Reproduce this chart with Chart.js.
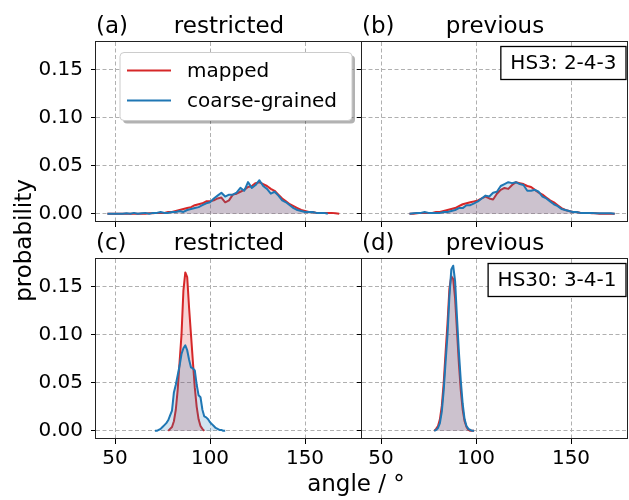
<!DOCTYPE html>
<html>
<head>
<meta charset="utf-8">
<script src="https://cdn.jsdelivr.net/npm/chart.js@4.4.1/dist/chart.umd.min.js"></script>
<style>
  body { margin: 0; background: #fff; }
  #wrap { position: relative; width: 629px; height: 500px; }
  #wrap canvas { position: absolute; left: 0; top: 0; }
</style>
</head>
<body>
<div id="wrap">
  <canvas id="pa" width="629" height="500"></canvas>
  <canvas id="pb" width="629" height="500"></canvas>
  <canvas id="pc" width="629" height="500"></canvas>
  <canvas id="pd" width="629" height="500"></canvas>
</div>
<script>
// axis ticks
const xTicks = [50, 100, 150];
const yTicks = [0, 0.05, 0.10, 0.15];

// HS3 2-4-3, restricted
const anglesA = [46,48,50,52,54,56,58,60,62,64,66,68,70,72,74,76,78,80,82,84,86,88,90,92,94,96,98,100,102,104,106,108,110,112,114,116,118,120,122,124,126,128,130,132,134,136,138,140,142,144,146,148,150,152,154,156,158,160,162,164,166,168];
const mappedA = [0,0,0,0,0,0,0,0,0,0,0,0.0005,0.0005,0.001,0.001,0.001,0.002,0.002,0.003,0.004,0.005,0.006,0.007,0.009,0.010,0.011,0.013,0.013,0.014,0.016,0.017,0.012,0.014,0.020,0.021,0.023,0.025,0.028,0.029,0.032,0.033,0.031,0.029,0.026,0.024,0.020,0.016,0.013,0.010,0.008,0.006,0.004,0.003,0.002,0.002,0.001,0.001,0.001,0.001,0.001,0.0005,0];
const cgA = [0,0,0,0,0,0.0005,0,0.001,0,0.0005,0.001,0,0.001,0.001,0.002,0.001,0.001,0.002,0.002,0.003,0.002,0.004,0.005,0.006,0.007,0.009,0.011,0.012,0.016,0.019,0.022,0.018,0.020,0.020,0.022,0.027,0.024,0.033,0.027,0.030,0.035,0.029,0.026,0.021,0.023,0.019,0.014,0.012,0.009,0.006,0.004,0.003,0.002,0.002,0.002,0.001,0.001,0.001,0];

// HS3 2-4-3, previous
const anglesB = [65,67,69,71,73,75,77,79,81,83,85,87,89,91,93,95,97,99,101,103,105,107,109,111,113,115,117,119,121,123,125,127,129,131,133,135,137,139,141,143,145,147,149,151,153,155,157,159,161,163,165,167,169,171,173];
const mappedB = [0,0,0.0005,0.001,0.001,0.001,0.001,0.002,0.002,0.003,0.004,0.005,0.006,0.008,0.010,0.011,0.012,0.013,0.014,0.016,0.018,0.016,0.015,0.021,0.025,0.027,0.026,0.030,0.033,0.032,0.031,0.029,0.028,0.025,0.022,0.020,0.017,0.014,0.012,0.009,0.006,0.004,0.003,0.002,0.002,0.001,0.001,0.001,0.0005,0.0005,0,0,0,0,0];
const cgB = [0,0.0005,0.001,0.001,0.002,0.001,0.001,0.001,0.001,0.002,0.002,0.003,0.004,0.006,0.006,0.009,0.009,0.011,0.013,0.016,0.019,0.018,0.022,0.023,0.029,0.031,0.033,0.032,0.033,0.031,0.030,0.024,0.024,0.025,0.023,0.018,0.016,0.013,0.010,0.008,0.005,0.004,0.003,0.002,0.002,0.001,0.001,0.001,0.001,0.0005,0.0005,0.0005,0.0005,0.0005,0];

// HS30 3-4-1, restricted
const anglesCm = [78,79,80,81,82,83,84,85,86,87,88,89,90,91,92,93,94,95,96,97];
const mappedC = [0,0.002,0.004,0.010,0.022,0.043,0.072,0.100,0.146,0.165,0.160,0.128,0.100,0.072,0.045,0.025,0.012,0.005,0.002,0];
const anglesCc = [71,72,73,74,75,76,77,78,79,80,81,82,83,84,85,86,87,88,89,90,91,92,93,94,95,96,97,98,99,100,101,102,103,104,105,106,107,108];
const cgC = [0,0,0.001,0.002,0.004,0.006,0.008,0.011,0.016,0.021,0.040,0.048,0.058,0.068,0.080,0.086,0.089,0.084,0.074,0.066,0.065,0.063,0.048,0.037,0.035,0.022,0.015,0.014,0.012,0.009,0.007,0.005,0.003,0.002,0.001,0.001,0,0];

// HS30 3-4-1, previous
const anglesD = [78,79,80,81,82,83,84,85,86,87,88,89,90,91,92,93,94,95,96,97,98,99];
const mappedD = [0,0.002,0.005,0.012,0.026,0.050,0.082,0.112,0.148,0.161,0.158,0.138,0.104,0.070,0.042,0.022,0.010,0.004,0.001,0,0,0];
const cgD = [0,0.001,0.003,0.008,0.020,0.042,0.072,0.100,0.140,0.168,0.172,0.156,0.118,0.082,0.052,0.028,0.012,0.005,0.002,0.001,0,0];

const RED = '#d62728';
const BLUE = '#1f77b4';
const FONT = '"DejaVu Sans"';
const Y_W = 60;   // forced y axis width
const X_H = 40;   // forced x axis height

function roundRect(ctx, x, y, w, h, r) {
  ctx.beginPath();
  ctx.moveTo(x + r, y);
  ctx.lineTo(x + w - r, y);
  ctx.quadraticCurveTo(x + w, y, x + w, y + r);
  ctx.lineTo(x + w, y + h - r);
  ctx.quadraticCurveTo(x + w, y + h, x + w - r, y + h);
  ctx.lineTo(x + r, y + h);
  ctx.quadraticCurveTo(x, y + h, x, y + h - r);
  ctx.lineTo(x, y + r);
  ctx.quadraticCurveTo(x, y, x + r, y);
  ctx.closePath();
}

// frame, panel titles, tag box, legend and figure labels
const decor = {
  id: 'decor',
  afterDraw(chart, args, o) {
    const ctx = chart.ctx;
    const a = chart.chartArea;
    ctx.save();
    ctx.strokeStyle = '#222';
    ctx.lineWidth = 1;
    // neighbouring panels share the same edge pixel
    ctx.strokeRect(Math.round(a.left) - 0.5, Math.round(a.top) - 0.5,
                   Math.round(a.right - a.left), Math.round(a.bottom - a.top));

    ctx.fillStyle = '#000';
    ctx.font = '23px ' + FONT;
    ctx.textBaseline = 'alphabetic';
    ctx.textAlign = 'left';
    ctx.fillText(o.tag, a.left, a.top - 9);
    ctx.textAlign = 'center';
    ctx.fillText(o.title, (a.left + a.right) / 2, a.top - 9);

    if (o.box) {
      ctx.font = '20px ' + FONT;
      const tw = ctx.measureText(o.box).width;
      const w = tw + 19, h = 33;
      const bx = a.right - 2 - w, by = a.top + 4.5;
      ctx.fillStyle = '#fff';
      ctx.fillRect(bx, by, w, h);
      ctx.strokeStyle = '#000';
      ctx.lineWidth = 1.3;
      ctx.strokeRect(bx, by, w, h);
      ctx.fillStyle = '#000';
      ctx.textAlign = 'center';
      ctx.textBaseline = 'middle';
      ctx.fillText(o.box, bx + w / 2, by + h / 2 + 1);
    }

    if (o.legend) {
      const lx = a.left + 24, ly = a.top + 10.5, lw = 232, lh = 68;
      ctx.fillStyle = 'rgba(0,0,0,0.3)';
      roundRect(ctx, lx + 3, ly + 3, lw, lh, 4);
      ctx.fill();
      ctx.fillStyle = '#fff';
      roundRect(ctx, lx, ly, lw, lh, 4);
      ctx.fill();
      ctx.strokeStyle = '#cccccc';
      ctx.lineWidth = 1;
      ctx.stroke();
      ctx.font = '20px ' + FONT;
      ctx.textAlign = 'left';
      ctx.textBaseline = 'middle';
      o.legend.forEach((item, i) => {
        const yy = ly + 18 + i * 30;
        ctx.strokeStyle = item.color;
        ctx.lineWidth = 2;
        ctx.beginPath();
        ctx.moveTo(lx + 7, yy);
        ctx.lineTo(lx + 51, yy);
        ctx.stroke();
        ctx.fillStyle = '#000';
        ctx.fillText(item.label, lx + 67, yy + 1);
      });
    }

    if (o.figLabels) {
      ctx.fillStyle = '#000';
      ctx.font = '23px ' + FONT;
      ctx.textAlign = 'center';
      ctx.textBaseline = 'alphabetic';
      ctx.fillText('angle / °', 356, 491);
      ctx.translate(31, 240.5);
      ctx.rotate(-Math.PI / 2);
      ctx.fillText('probability', 0, 0);
    }
    ctx.restore();
  }
};

function series(xs, ys, color, fill, order) {
  return {
    data: ys.map((y, i) => ({ x: xs[i], y: y })),
    borderColor: color,
    backgroundColor: fill,
    borderWidth: 2,
    borderJoinStyle: 'round',
    fill: 'origin',
    pointRadius: 0,
    tension: 0,
    order: order
  };
}

function panel(id, box, datasets, showX, showY, deco) {
  new Chart(document.getElementById(id), {
    type: 'line',
    data: { datasets: datasets },
    options: {
      responsive: false,
      animation: false,
      events: [],
      layout: {
        padding: { left: box[0] - Y_W, top: box[1], right: 629 - box[2], bottom: 500 - box[3] - X_H }
      },
      scales: {
        x: {
          type: 'linear', min: 40, max: 180,
          afterBuildTicks: s => { s.ticks = xTicks.map(v => ({ value: v })); },
          afterFit: s => { s.height = X_H; s.paddingLeft = 0; s.paddingRight = 0; },
          grid: { color: '#b0b0b0', lineWidth: 1, tickColor: '#000', tickLength: 5, tickWidth: 1 },
          border: { display: false, dash: [4, 2.5] },
          ticks: { display: showX, color: '#000', padding: 3, maxRotation: 0, font: { family: 'DejaVu Sans', size: 20 } }
        },
        y: {
          type: 'linear', min: -0.0085, max: 0.179,
          afterBuildTicks: s => { s.ticks = yTicks.map(v => ({ value: v })); },
          afterFit: s => { s.width = Y_W; s.paddingTop = 0; s.paddingBottom = 0; },
          grid: { color: '#b0b0b0', lineWidth: 1, tickColor: '#000', tickLength: 5, tickWidth: 1 },
          border: { display: false, dash: [4, 2.5] },
          ticks: { display: showY, color: '#000', padding: 8, font: { family: 'DejaVu Sans', size: 20 },
                   callback: v => v.toFixed(2) }
        }
      },
      plugins: {
        legend: { display: false },
        tooltip: { enabled: false },
        decor: deco
      }
    },
    plugins: [decor]
  });
}

const redFill = 'rgba(214,39,40,0.2)';
const blueFill = 'rgba(31,119,180,0.2)';

panel('pa', [96, 42, 362, 222], [
  series(anglesA, mappedA, RED, redFill, 2),
  series(anglesA, cgA, BLUE, blueFill, 1)
], false, true, {
  tag: '(a)', title: 'restricted',
  legend: [{ label: 'mapped', color: RED }, { label: 'coarse-grained', color: BLUE }]
});

panel('pb', [362, 42, 628, 222], [
  series(anglesB, mappedB, RED, redFill, 2),
  series(anglesB, cgB, BLUE, blueFill, 1)
], false, false, { tag: '(b)', title: 'previous', box: 'HS3: 2-4-3' });

panel('pc', [96, 259, 362, 439], [
  series(anglesCm, mappedC, RED, redFill, 2),
  series(anglesCc, cgC, BLUE, blueFill, 1)
], true, true, { tag: '(c)', title: 'restricted', figLabels: true });

panel('pd', [362, 259, 628, 439], [
  series(anglesD, mappedD, RED, redFill, 2),
  series(anglesD, cgD, BLUE, blueFill, 1)
], true, false, { tag: '(d)', title: 'previous', box: 'HS30: 3-4-1' });
</script>
</body>
</html>
